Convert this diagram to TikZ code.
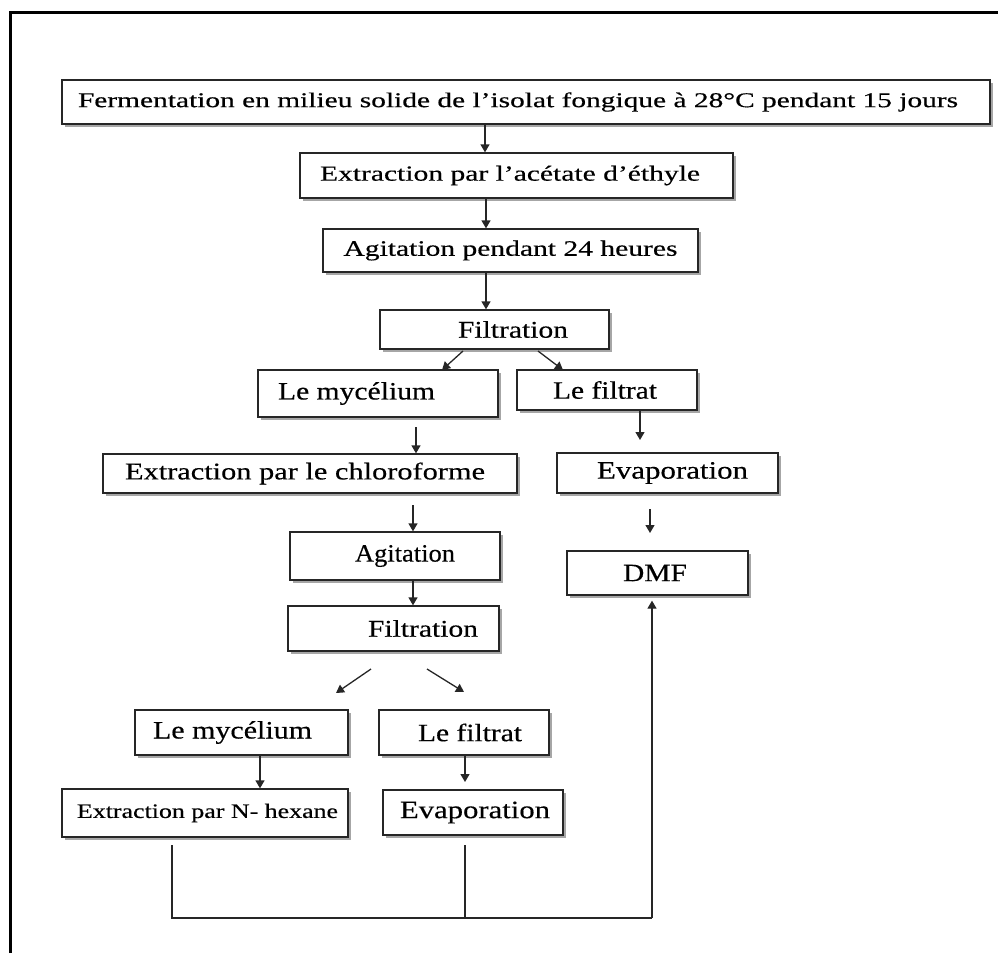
\documentclass[tikz,border=0pt]{standalone}
\usepackage{fontspec}
\setmainfont{Liberation Serif}[FakeBold=0.35]
\usepackage{graphicx}
\usetikzlibrary{arrows.meta,shadows}
\newcommand\fitw[2]{\resizebox{#1pt}{\height}{#2}}
\tikzset{
  box/.style={draw=black!85, line width=1.3pt, fill=white, inner sep=0pt,
    drop shadow={shadow xshift=2.5pt, shadow yshift=-2.5pt, opacity=0.7, fill=gray}},
  arr/.style={draw=black!85, line width=1.3pt, -{Triangle[width=9pt,length=8pt]}},
  ln/.style={draw=black!85, line width=1.3pt},
}
\newcommand\fs[1]{\fontsize{#1}{#1}\selectfont}
\begin{document}
\begin{tikzpicture}[x=1pt,y=-1pt]
\useasboundingbox (0,0) rectangle (998,953);
\draw[line width=3pt] (10,953) -- (10,12) -- (998,12);

\node[box, minimum width=928, minimum height=44, font=\fs{21}] (ferm) at (526,102)
  {\hspace*{-16pt}\fitw{880}{Fermentation en milieu solide de l’isolat fongique à 28°C pendant 15 jours}};
\node[box, minimum width=433, minimum height=45, font=\fs{21.5}] (ext) at (516.5,175.5)
  {\hspace*{-13pt}\fitw{380}{Extraction par l’acétate d’éthyle}};
\node[box, minimum width=375, minimum height=43, font=\fs{22}] (agit) at (510.5,250.5)
  {\fitw{334}{Agitation pendant 24 heures}};
\node[box, minimum width=229, minimum height=39, font=\fs{24}] (filt1) at (494.5,329.5)
  {\hspace*{37pt}\fitw{110}{Filtration}};
\node[box, minimum width=240, minimum height=47, font=\fs{25}] (myc1) at (378,393.5)
  {\hspace*{-43pt}\fitw{157}{Le mycélium}};
\node[box, minimum width=180, minimum height=40, font=\fs{25}] (fil1) at (607,390)
  {\hspace*{-4pt}\fitw{104}{Le filtrat}};
\node[box, minimum width=414, minimum height=39, font=\fs{24}] (chl) at (310,473.5)
  {\hspace*{-10pt}\fitw{360}{Extraction par le chloroforme}};
\node[box, minimum width=221, minimum height=40, font=\fs{25}] (eva1) at (667.5,473)
  {\hspace*{10pt}\fitw{151}{Evaporation}};
\node[box, minimum width=210, minimum height=48, font=\fs{25}] (agi2) at (395,556)
  {\hspace*{20pt}\fitw{100}{Agitation}};
\node[box, minimum width=181, minimum height=44, font=\fs{25}] (dmf) at (657.5,573)
  {\hspace*{-5pt}\fitw{64}{DMF}};
\node[box, minimum width=211, minimum height=45, font=\fs{24}] (filt2) at (393.5,628.5)
  {\hspace*{59pt}\fitw{110}{Filtration}};
\node[box, minimum width=213, minimum height=45, font=\fs{25}] (myc2) at (241.5,732.5)
  {\hspace*{-18pt}\fitw{159}{Le mycélium}};
\node[box, minimum width=170, minimum height=45, font=\fs{25}] (fil2) at (464,732.5)
  {\hspace*{12pt}\fitw{104}{Le filtrat}};
\node[box, minimum width=286, minimum height=48, font=\fs{20.5}] (hex) at (205,813)
  {\hspace*{5pt}\fitw{261}{Extraction par N- hexane}};
\node[box, minimum width=180, minimum height=45, font=\fs{25}] (eva2) at (473,812.5)
  {\hspace*{4pt}\fitw{150}{Evaporation}};

% coordinates for arrow columns and free ends
\coordinate (c1) at (485,0);
\coordinate (c2) at (486,0);
\coordinate (s1a) at (463,351);  \coordinate (e1a) at (442,370);
\coordinate (s1b) at (538,351);  \coordinate (e1b) at (563,370);
\coordinate (m1s) at (416,427);
\coordinate (f1e) at (640,440);
\coordinate (ch2) at (413,505);
\coordinate (ev1s) at (650,509); \coordinate (ev1e) at (650,533);
\coordinate (s2a) at (371,669);  \coordinate (e2a) at (336,693);
\coordinate (s2b) at (427,669);  \coordinate (e2b) at (464,692);
\coordinate (m2x) at (260,0);
\coordinate (f2e) at (465,782);
\coordinate (h1) at (172,845);   \coordinate (h2) at (172,918);
\coordinate (v1) at (465,845);   \coordinate (v2) at (465,918);
\coordinate (r1) at (652,918);

\draw[arr] (ferm.south -| c1) -- (ext.north -| c1);
\draw[arr] (ext.south -| c2) -- (agit.north -| c2);
\draw[arr] (agit.south -| c2) -- (filt1.north -| c2);
\draw[arr] (s1a) -- (e1a);
\draw[arr] (s1b) -- (e1b);
\draw[arr] (m1s) -- (chl.north -| m1s);
\draw[arr] (fil1.south -| f1e) -- (f1e);
\draw[arr] (ch2) -- (agi2.north -| ch2);
\draw[arr] (ev1s) -- (ev1e);
\draw[arr] (agi2.south -| ch2) -- (filt2.north -| ch2);
\draw[arr] (s2a) -- (e2a);
\draw[arr] (s2b) -- (e2b);
\draw[arr] (myc2.south -| m2x) -- (hex.north -| m2x);
\draw[arr] (fil2.south -| f2e) -- (f2e);
\draw[ln] (h1) -- (h2) -- (r1);
\draw[ln] (v1) -- (v2);
\draw[arr] (r1) -- ([yshift=-5pt]dmf.south -| r1);
\end{tikzpicture}
\end{document}
